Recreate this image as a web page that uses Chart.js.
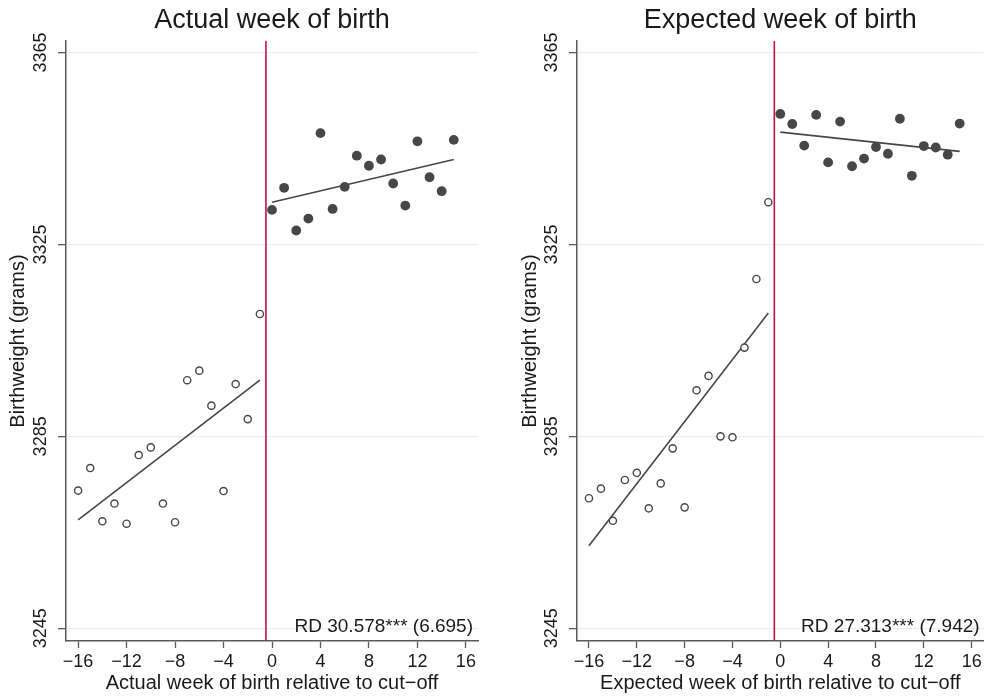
<!DOCTYPE html>
<html><head><meta charset="utf-8">
<script src="https://cdn.jsdelivr.net/npm/chart.js@4.4.1/dist/chart.umd.min.js"></script>
<style>
html,body{margin:0;padding:0;background:#fff;overflow:hidden;}
.panel{position:absolute;top:0;height:696px;}
#p1{left:0;width:494px;}
#p2{left:494px;width:495px;}
</style></head><body>
<div class="panel" id="p1"><canvas id="c1"></canvas></div>
<div class="panel" id="p2"><canvas id="c2"></canvas></div>
<script>
// ---- data ----
const preWeeks  = [-16,-15,-14,-13,-12,-11,-10,-9,-8,-7,-6,-5,-4,-3,-2,-1];
const postWeeks = [0,1,2,3,4,5,6,7,8,9,10,11,12,13,14,15];
const actualPre  = [3273.7,3278.4,3267.3,3271.0,3266.8,3281.1,3282.7,3271.0,3267.1,3296.7,3298.7,3291.4,3273.6,3295.9,3288.6,3310.5];
const actualPost = [3332.2,3336.8,3327.9,3330.4,3348.2,3332.4,3337.0,3343.5,3341.4,3342.7,3337.7,3333.1,3346.5,3339.0,3336.1,3346.8];
const actualFitX    = [-16,-1];
const actualFitPre  = [3267.6,3296.7];
const actualFitPostX= [0,15];
const actualFitPost = [3333.8,3342.7];
const expectedPre  = [3272.1,3274.1,3267.4,3275.9,3277.4,3270.0,3275.2,3282.5,3270.2,3294.6,3297.6,3285.0,3284.8,3303.5,3317.8,3333.8];
const expectedPost = [3352.2,3350.1,3345.6,3352.0,3342.1,3350.6,3341.3,3342.9,3345.3,3343.9,3351.2,3339.3,3345.5,3345.2,3343.7,3350.2];
const expectedFitX     = [-16,-1];
const expectedFitPre   = [3262.2,3310.7];
const expectedFitPostX = [0,15];
const expectedFitPost  = [3348.4,3344.4];
const cutoff = -0.5;
const yTicks = [3245,3285,3325,3365];
const xTicks = [-16,-12,-8,-4,0,4,8,12,16];
const yRange = [3242.35,3367.4];
const xRange = [-17,17];
const titles = ['Actual week of birth','Expected week of birth'];
const xTitles = ['Actual week of birth relative to cut\u2212off','Expected week of birth relative to cut\u2212off'];
const yTitle = 'Birthweight (grams)';
const rdTexts = ['RD 30.578*** (6.695)','RD 27.313*** (7.942)'];

// ---- styling ----
const FONT = '"Liberation Sans", Arial, Helvetica, sans-serif';
const DOT = '#474747';
const RED = '#c8103c';
const AXIS = '#5a5a5a';
const GRID = '#e8eff2';
const TXT = '#1a1a1a';

const pts = (xs, ys) => xs.map((x,i)=>({x, y: ys[i]}));
const fmtX = v => (v < 0 ? '\u2212' + Math.abs(v) : String(v));

const overlay = {
  id: 'overlay',
  afterDraw(chart, args, opts) {
    const {ctx, chartArea, scales: {y}} = chart;
    ctx.save();
    ctx.fillStyle = TXT;
    ctx.font = '18px ' + FONT;
    ctx.textAlign = 'center';
    ctx.textBaseline = 'middle';
    for (const v of yTicks) {
      const py = y.getPixelForValue(v);
      ctx.save();
      ctx.translate(chartArea.left - 24.5, py);
      ctx.rotate(-Math.PI/2);
      ctx.fillText(String(v), 0, 0);
      ctx.restore();
    }
    ctx.font = '19px ' + FONT;
    ctx.textAlign = 'right';
    ctx.textBaseline = 'alphabetic';
    ctx.fillText(opts.rd, chartArea.right - opts.rdRight, y.getPixelForValue(yTicks[0]) + 3.5);
    ctx.restore();
  }
};

function makeChart(id, idx, pre, post, fitX, fitPre, fitPostX, fitPost, yAxisWidth, yTitlePad, padRight, rdRight) {
  return new Chart(document.getElementById(id), {
    type: 'scatter',
    data: {
      datasets: [
        { data: pts(preWeeks, pre), pointRadius: 3.6, pointBorderWidth: 1.4, pointBackgroundColor: '#fff', pointBorderColor: DOT, order: 1 },
        { data: pts(postWeeks, post), pointRadius: 4.9, pointBorderWidth: 0, pointBackgroundColor: DOT, pointBorderColor: DOT, order: 1 },
        { data: pts(fitX, fitPre), showLine: true, pointRadius: 0, borderColor: DOT, borderWidth: 1.6, order: 2 },
        { data: pts(fitPostX, fitPost), showLine: true, pointRadius: 0, borderColor: DOT, borderWidth: 1.6, order: 2 },
        { data: pts([cutoff, cutoff], yRange), showLine: true, pointRadius: 0, borderColor: RED, borderWidth: 1.6, order: 3 }
      ]
    },
    options: {
      responsive: true,
      maintainAspectRatio: false,
      animation: false,
      events: [],
      layout: { padding: { left: 0, right: padRight, top: 0, bottom: 0 } },
      plugins: {
        legend: { display: false },
        tooltip: { enabled: false },
        title: {
          display: true, text: titles[idx], fullSize: false, color: TXT,
          font: { family: FONT, size: 27, weight: 'normal' },
          padding: { top: 4, bottom: 4.6 }
        },
        overlay: { rd: rdTexts[idx], rdRight: rdRight }
      },
      scales: {
        x: {
          type: 'linear', min: xRange[0], max: xRange[1],
          afterBuildTicks: s => { s.ticks = xTicks.map(v => ({value: v})); },
          afterFit: s => { s.height = 55; },
          ticks: { callback: v => fmtX(v), color: TXT, font: { family: FONT, size: 18 }, padding: 3, maxRotation: 0, autoSkip: false, includeBounds: false },
          grid: { drawOnChartArea: false, tickLength: 7, tickColor: AXIS, tickWidth: 1.3 },
          border: { color: AXIS, width: 1.5 },
          title: { display: true, text: xTitles[idx], color: TXT, font: { family: FONT, size: 20 }, padding: { top: 0, bottom: 1 } }
        },
        y: {
          type: 'linear', min: yRange[0], max: yRange[1],
          afterBuildTicks: s => { s.ticks = yTicks.map(v => ({value: v})); },
          afterFit: s => { s.width = yAxisWidth; },
          ticks: { display: false },
          grid: { color: GRID, lineWidth: 1.3, tickLength: 8, tickColor: AXIS, tickWidth: 1.3 },
          border: { color: AXIS, width: 1.5 },
          title: { display: true, text: yTitle, color: TXT, font: { family: FONT, size: 20 }, padding: { top: yTitlePad, bottom: 0 } }
        }
      }
    },
    plugins: [overlay]
  });
}

makeChart('c1', 0, actualPre, actualPost, actualFitX, actualFitPre, actualFitPostX, actualFitPost, 66, 6.5, 16, 5);
makeChart('c2', 1, expectedPre, expectedPost, expectedFitX, expectedFitPre, expectedFitPostX, expectedFitPost, 83, 24, 0, 4);
</script>
</body></html>
